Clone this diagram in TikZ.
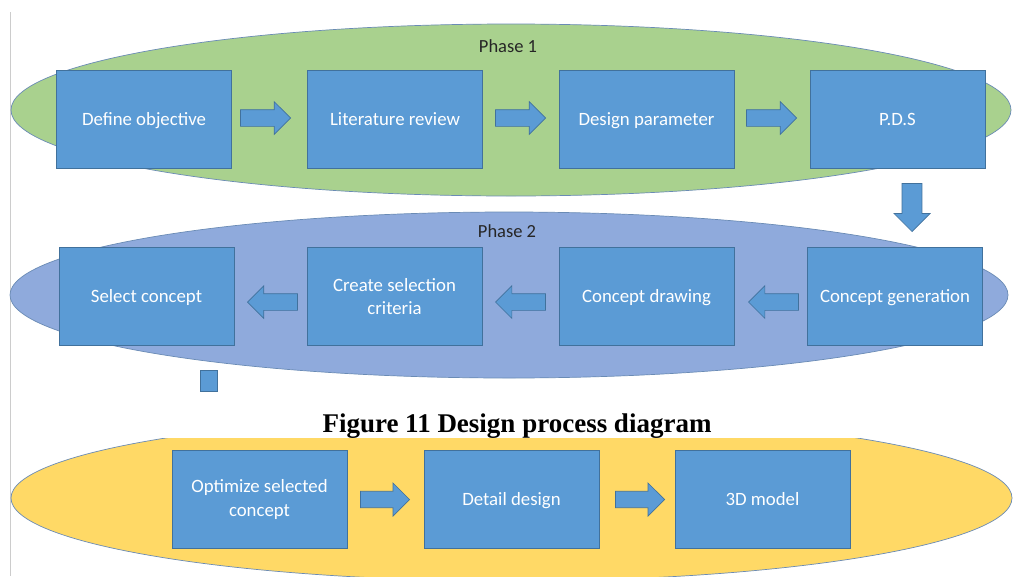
\documentclass[tikz,border=0pt]{standalone}
\usepackage{fontspec}
\setmainfont{Carlito}
\newfontfamily\capfont{Liberation Serif}
\usetikzlibrary{shapes.arrows}
\definecolor{boxblue}{HTML}{5B9BD5}
\definecolor{boxedge}{HTML}{41719C}
\definecolor{phgreen}{HTML}{A9D18E}
\definecolor{phblue}{HTML}{8FAADC}
\definecolor{phyellow}{HTML}{FFD966}
\definecolor{elledge}{HTML}{6A8BB5}
\definecolor{rulegray}{HTML}{CCCCCC}
\begin{document}
\begin{tikzpicture}[x=1pt,y=-1pt,
  stepbox/.style={draw=boxedge,fill=boxblue,line width=0.8pt,minimum width=175pt,minimum height=98pt,
    text=white,align=center,inner sep=0pt,font=\fontsize{18.8}{23.5}\selectfont},
  oneline/.style={text height=14pt,text depth=2pt},
  phase/.style={draw=elledge,line width=0.7pt},
  blockarrow/.style={single arrow,draw=boxedge,fill=boxblue,line width=0.7pt,inner xsep=0pt,
    inner ysep=8pt,minimum height=50pt,minimum width=32pt,single arrow head extend=8pt,anchor=tip},
  phaselabel/.style={text=black!85,font=\fontsize{18.5}{22}\selectfont}]
\useasboundingbox (0,0) rectangle (1014,576);
\fill[white] (0,0) rectangle (1014,576);
\draw[rulegray,line width=0.8pt] (10.5,12) -- (10.5,576);
% phase ellipses
\draw[phase,fill=phgreen] (511,110) ellipse [x radius=500pt,y radius=86pt];
\draw[phase,fill=phblue] (509,295) ellipse [x radius=499pt,y radius=83pt];
\begin{scope}
  \clip (0,438) rectangle (1014,576);
  \draw[phase,fill=phyellow] (511.5,498) ellipse [x radius=500.5pt,y radius=83pt];
\end{scope}
\node[phaselabel] (ph1) at (508,46) {Phase 1};
\node[phaselabel] (ph2) at (507,231) {Phase 2};
% row 1
\node[stepbox,oneline] (def) at (144,119) {Define objective};
\node[stepbox,oneline] (lit) at (395,119) {Literature review};
\node[stepbox,oneline] (par) at (646.5,119) {Design parameter};
\node[stepbox,oneline] (pds) at (897.5,119) {P.D.S};
% row 2
\node[stepbox,oneline] (sel) at (146.5,296.5) {Select concept};
\node[stepbox] (crit) at (394.5,296.5) {Create selection\\criteria};
\node[stepbox,oneline] (draw) at (646.5,296.5) {Concept drawing};
\node[stepbox,oneline] (gen) at (895,296.5) {Concept generation};
% row 3
\node[stepbox] (opt) at (259.5,499.5) {Optimize selected\\concept};
\node[stepbox,oneline] (det) at (511.5,499.5) {Detail design};
\node[stepbox,oneline] (mod) at (762.5,499.5) {3D model};
% block arrows
\node[blockarrow] (a1) at (291,118) {};
\node[blockarrow] (a2) at (546,118) {};
\node[blockarrow] (a3) at (797,118) {};
\node[blockarrow,shape border rotate=270,inner xsep=9.5pt,inner ysep=0pt,minimum width=36pt,minimum height=48pt] (a4) at (912,232) {};
\node[blockarrow,shape border rotate=180] (a5) at (748,302) {};
\node[blockarrow,shape border rotate=180] (a6) at (495,302) {};
\node[blockarrow,shape border rotate=180] (a7) at (247,302) {};
\node[blockarrow,inner ysep=7.5pt,minimum width=33pt,minimum height=49pt] (a8) at (410,499.5) {};
\node[blockarrow,inner ysep=7.5pt,minimum width=33pt,minimum height=49pt] (a9) at (665,499.5) {};
% small square
\node[draw=boxedge,fill=boxblue,line width=0.6pt,minimum width=17pt,minimum height=21pt,inner sep=0pt] (sq) at (208.5,380.5) {};
% caption
\node[anchor=base,font=\capfont\bfseries\fontsize{27}{30}\selectfont] (cap) at (517,432) {Figure 11 Design process diagram};
\end{tikzpicture}
\end{document}
